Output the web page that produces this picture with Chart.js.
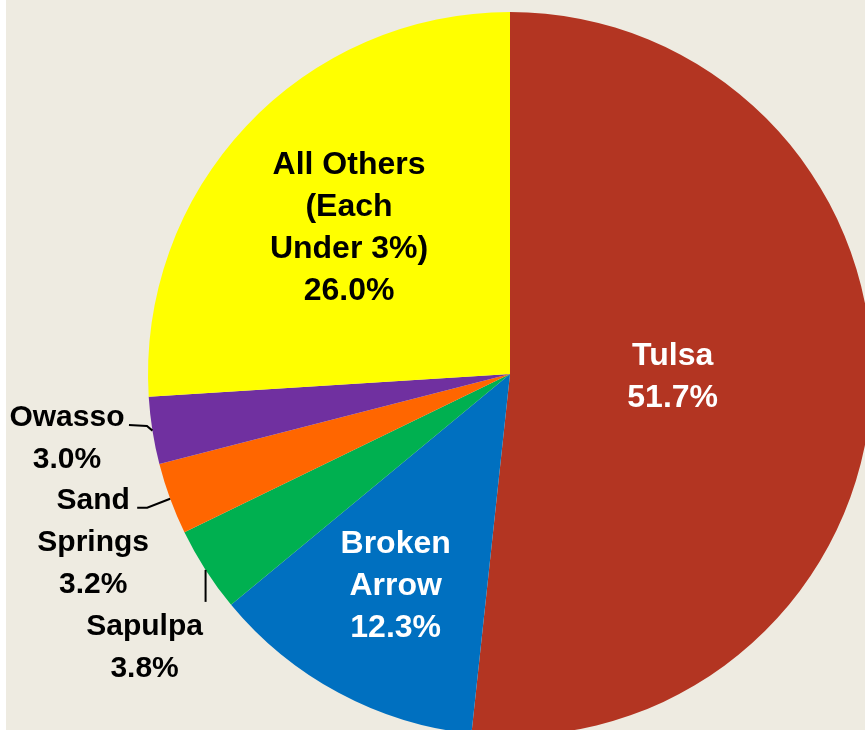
<!DOCTYPE html>
<html>
<head>
<meta charset="utf-8">
<script src="https://cdn.jsdelivr.net/npm/chart.js@4"></script>
<style>
  html, body { margin: 0; padding: 0; overflow: hidden; background: #fff; }
  #page { position: relative; width: 865px; height: 730px; overflow: hidden; background: #fff; }
  #panel { position: absolute; left: 6px; top: 0; right: 0; bottom: 0; background: #eeebe1; }
  #box { position: absolute; left: 0; top: 0; width: 880px; height: 740px; }
</style>
</head>
<body>
<div id="page">
  <div id="panel"></div>
  <div id="box"><canvas id="pieChart"></canvas></div>
</div>
<script>
// city shares, clockwise from 12 o'clock
const cities = [
  ['Tulsa'],
  ['Broken', 'Arrow'],
  ['Sapulpa'],
  ['Sand', 'Springs'],
  ['Owasso'],
  ['All Others', '(Each', 'Under 3%)']
];
const shares = [51.7, 12.3, 3.8, 3.2, 3.0, 26.0];
const sliceColors = ['#b33522', '#0070c0', '#00b050', '#ff6600', '#7030a0', '#ffff00'];

// where each label sits: inside = fraction of radius along mid angle (+ small nudge),
// outside = leader line from the rim, offsets in px from the rim point
const labelLayout = [
  { inside: 0.45, nudge: -6, color: '#fff' },
  { inside: 0.667, nudge: -1, color: '#fff' },
  { leader: [[0, 0], [0, 32]], text: [-61, 57], color: '#000' },
  { leader: [[0, 0], [-23, 9], [-33, 9]], text: [-77, 2], color: '#000' },
  { leader: [[0, 0], [-5.5, -4.6], [-23.5, -5.6]], text: [-85.5, -12.6], color: '#000' },
  { inside: 0.61, nudge: 5, color: '#000' }
];

const lineHeight = 42;

const sliceLabels = {
  id: 'sliceLabels',
  afterDatasetsDraw(chart) {
    const ctx = chart.ctx;
    const arcs = chart.getDatasetMeta(0).data;
    ctx.save();
    ctx.textAlign = 'center';
    ctx.textBaseline = 'middle';
    arcs.forEach((arc, i) => {
      const p = arc.getProps(['x', 'y', 'startAngle', 'endAngle', 'outerRadius'], true);
      const mid = (p.startAngle + p.endAngle) / 2;
      const lay = labelLayout[i];
      const lines = cities[i].concat([shares[i].toFixed(1) + '%']);
      let cx, cy;
      if (lay.inside) {
        const r = p.outerRadius * lay.inside;
        cx = p.x + Math.cos(mid) * r;
        cy = p.y + Math.sin(mid) * r - (lines.length - 1) * lineHeight / 2 + lay.nudge;
        ctx.font = 'bold 32px "Liberation Sans", Arial, sans-serif';
      } else {
        const rx = p.x + Math.cos(mid) * p.outerRadius;
        const ry = p.y + Math.sin(mid) * p.outerRadius;
        ctx.strokeStyle = '#000';
        ctx.lineWidth = 2;
        ctx.beginPath();
        lay.leader.forEach((pt, k) => {
          if (k == 0) ctx.moveTo(rx + pt[0], ry + pt[1]);
          else ctx.lineTo(rx + pt[0], ry + pt[1]);
        });
        ctx.stroke();
        cx = rx + lay.text[0];
        cy = ry + lay.text[1];
        ctx.font = 'bold 30px "Liberation Sans", Arial, sans-serif';
      }
      ctx.fillStyle = lay.color;
      lines.forEach((txt, k) => {
        ctx.fillText(txt, cx, cy + k * lineHeight);
      });
    });
    ctx.restore();
  }
};

const pieChart = new Chart(document.getElementById('pieChart'), {
  type: 'pie',
  data: {
    labels: cities,
    datasets: [{
      data: shares,
      backgroundColor: sliceColors,
      borderWidth: 0
    }]
  },
  options: {
    responsive: true,
    maintainAspectRatio: false,
    animation: false,
    layout: {
      padding: { left: 148, top: 12, right: 8, bottom: 4 }
    },
    plugins: {
      legend: { display: false },
      tooltip: { enabled: false }
    },
    events: []
  },
  plugins: [sliceLabels]
});
</script>
</body>
</html>
